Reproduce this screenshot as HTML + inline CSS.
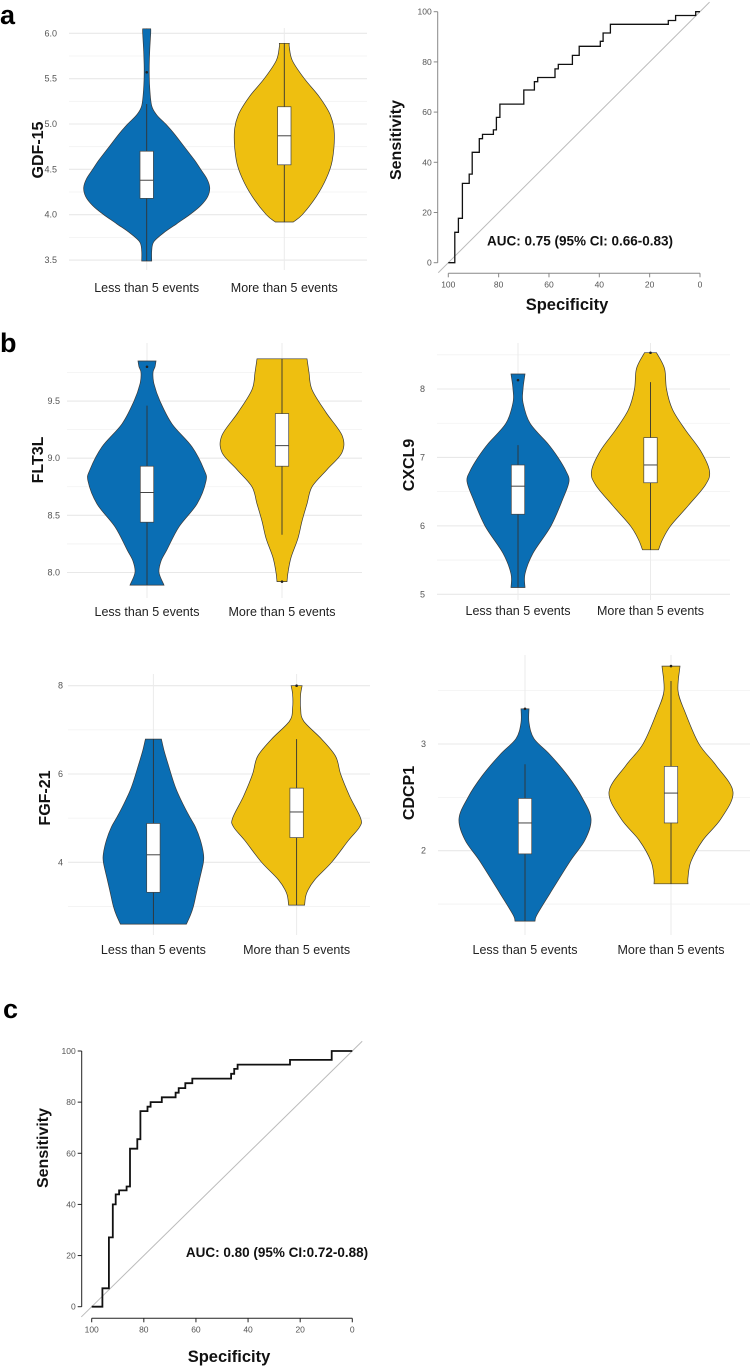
<!DOCTYPE html>
<html><head><meta charset="utf-8">
<style>
html,body{margin:0;padding:0;background:#fff;}
svg{display:block;font-family:"Liberation Sans",sans-serif;}
</style></head>
<body>
<svg id="fig" width="750" height="1368" viewBox="0 0 750 1368" xmlns="http://www.w3.org/2000/svg">
<text x="0" y="24" font-size="27" font-weight="bold">a</text>
<text x="0" y="352" font-size="27" font-weight="bold">b</text>
<text x="3" y="1018" font-size="27" font-weight="bold">c</text>
</svg>
<script>
// ---------- DATA ----------
const groups = ["Less than 5 events", "More than 5 events"];
const gdfBlue = [[3.49,5],[3.6,5],[3.7,7],[3.8,17],[3.9,30],[4.0,43],[4.1,54],[4.2,61],[4.3,63],[4.4,60],[4.5,54],[4.6,48],[4.7,41],[4.8,34],[4.9,27],[5.0,19],[5.1,10],[5.2,5],[5.4,3],[5.6,2.5],[5.8,3],[6.0,4],[6.05,4]];
const gdfYellow = [[3.92,9],[4.0,18],[4.2,32],[4.4,42],[4.6,48],[4.9,50],[5.1,46],[5.3,35],[5.5,20],[5.7,8],[5.85,5],[5.89,5]];
const gdfStats = [[3.49,4.18,4.38,4.70,5.22],[3.92,4.55,4.87,5.19,5.89]];
const gdfOut = [[5.57],[]];
const fltBlue = [[7.89,17],[8.0,12],[8.1,14],[8.2,20],[8.4,32],[8.6,50],[8.8,59],[8.9,57],[9.1,45],[9.3,25],[9.5,13],[9.65,7],[9.75,6],[9.8,8],[9.85,9]];
const fltYellow = [[7.92,5],[8.0,6],[8.13,9],[8.3,16],[8.45,20],[8.6,25],[8.75,30],[8.9,45],[9.05,60],[9.2,60],[9.4,44],[9.6,30],[9.75,27],[9.87,25]];
const fltStats = [[7.89,8.44,8.70,8.93,9.46],[8.33,8.93,9.11,9.39,9.87]];
const fltOut = [[9.8],[7.92]];
const cxBlue = [[5.1,7],[5.3,7],[5.6,15],[6.0,33],[6.4,45],[6.65,51],[6.8,48],[7.0,40],[7.2,30],[7.5,12],[7.8,5],[8.0,5],[8.22,7]];
const cxYellow = [[5.65,8],[5.8,12],[6.0,20],[6.3,38],[6.6,55],[6.8,59],[7.1,50],[7.4,35],[7.7,22],[8.0,16],[8.3,14],[8.53,6]];
const cxStats = [[5.1,6.17,6.58,6.89,7.18],[5.65,6.63,6.89,7.29,8.1]];
const cxOut = [[8.13],[8.53]];
const fgfBlue = [[2.6,33],[2.8,37],[3.0,40],[3.3,43],[3.6,46],[4.0,50],[4.2,50],[4.5,47],[4.8,42],[5.0,37],[5.3,30],[5.7,22],[6.2,15],[6.5,11],[6.79,8]];
const fgfYellow = [[3.03,8],[3.3,10],[3.6,18],[4.0,35],[4.5,52],[4.8,63],[5.0,64],[5.5,53],[6.0,44],[6.4,39],[6.79,25],[7.2,7],[7.5,4],[7.8,4],[8.0,5.5]];
const fgfStats = [[2.6,3.32,4.17,4.88,6.79],[3.03,4.56,5.14,5.68,6.79]];
const fgfOut = [[],[8.0]];
const cdBlue = [[1.34,10],[1.4,12],[1.6,25],[1.9,45],[2.1,60],[2.3,66],[2.5,57],[2.7,43],[2.9,25],[3.05,9],[3.2,4],[3.33,4]];
const cdYellow = [[1.69,17],[1.75,17],[1.9,20],[2.1,32],[2.3,50],[2.55,62],[2.8,45],[3.0,28],[3.3,14],[3.5,7],[3.73,9]];
const cdStats = [[1.34,1.97,2.26,2.49,2.81],[1.69,2.26,2.54,2.79,3.59]];
const cdOut = [[3.33],[3.73]];

const rocASpec = [97.4,96,94.4,91.7,90.5,87.7,86.4,82.1,80.9,79.5,70,65.8,64.5,57.6,56.3,50.7,48,39.6,38.5,35.6,12.6,9.7,1.7,0];
const rocASens = [12.1,17.7,31.6,35.3,44,49.4,51.1,52.9,57.9,63.2,68.8,72.1,73.8,77.2,79,82.6,86.2,88.2,91.5,95,96.5,98.5,100,100];
const rocCSpec = [95.9,93.4,91.9,90.8,89.5,86.6,85.3,82.5,81.3,78.6,77.4,73.1,67.8,66.6,64.1,61.4,46.5,45.3,44,23.9,7.9,0];
const rocCSens = [7.2,27.1,40,43.9,45.5,47,61.8,65.5,76.5,78.2,80,81.9,83.7,85.5,87.4,89.2,91.1,93,94.7,96.5,100,100];
const rocTicks = [0,20,40,60,80,100];

// ---------- RENDER ----------
const svg = document.getElementById('fig');
const NS = 'http://www.w3.org/2000/svg';
function mk(tag, attrs, parent){const e=document.createElementNS(NS,tag);for(const k in attrs)e.setAttribute(k,attrs[k]);(parent||svg).appendChild(e);return e;}
const COLORS = ['#0a6eb4','#eebf10'];

function smooth(pts){
  // Catmull-Rom to bezier, pts already includes start; returns segment string (no initial M)
  let s='';
  for(let i=0;i<pts.length-1;i++){
    const p0=pts[Math.max(0,i-1)],p1=pts[i],p2=pts[i+1],p3=pts[Math.min(pts.length-1,i+2)];
    const c1=[p1[0]+(p2[0]-p0[0])/6,p1[1]+(p2[1]-p0[1])/6];
    const c2=[p2[0]-(p3[0]-p1[0])/6,p2[1]-(p3[1]-p1[1])/6];
    s+=` C${c1[0].toFixed(1)},${c1[1].toFixed(1)} ${c2[0].toFixed(1)},${c2[1].toFixed(1)} ${p2[0].toFixed(1)},${p2[1].toFixed(1)}`;
  }
  return s;
}

function violinPanel(p){
  const g = mk('g',{});
  
  
  const y = v => p.py0 + (v - p.v0) * p.k;
  p.minor.forEach(v=>{const l=mk('line',{x1:p.gx0,x2:p.gx1,y1:y(v),y2:y(v),stroke:'#f2f2f2','stroke-width':0.8},g);
    
    });
  p.major.forEach(v=>{const l=mk('line',{x1:p.gx0,x2:p.gx1,y1:y(v),y2:y(v),stroke:'#e8e8e8','stroke-width':1.1},g);
    
    
    const t=mk('text',{x:p.tx,y:y(v)+3,'text-anchor':'end','font-size':9,fill:'#555'},g);t.textContent=p.fmt(v);
    
    });
  p.cx.forEach(c=>{const l=mk('line',{x1:c,x2:c,y1:p.vy0,y2:p.vy1,stroke:'#ebebeb','stroke-width':1},g);
    
    });
  p.dens.forEach((d,i)=>{
    const c=p.cx[i];
    const right=d.map(q=>[c+q[1],y(q[0])]);
    const left=d.slice().reverse().map(q=>[c-q[1],y(q[0])]);
    const dd='M'+right[0][0].toFixed(1)+','+right[0][1].toFixed(1)+smooth(right)+' L'+left[0][0].toFixed(1)+','+left[0][1].toFixed(1)+smooth(left)+'Z';
    const path=mk('path',{d:dd,fill:COLORS[i],stroke:'#3a3a3a','stroke-width':0.7},g);
    
    
    const s=p.stats[i];
    const w=mk('line',{x1:c,x2:c,y1:y(s[0]),y2:y(s[4]),stroke:'#333','stroke-width':0.9},g);
    
    
    const b=mk('rect',{x:c-6.7,y:y(s[3]),width:13.4,height:y(s[1])-y(s[3]),fill:'#fff',stroke:'#444','stroke-width':0.7},g);
    
    
    const m=mk('line',{x1:c-6.7,x2:c+6.7,y1:y(s[2]),y2:y(s[2]),stroke:'#444','stroke-width':1},g);
    
    
    p.out[i].forEach(o=>{const pt=mk('circle',{cx:c,cy:y(o),r:1.3,fill:'#222'},g);
      
      });
    const t=mk('text',{x:c,y:p.ly,'text-anchor':'middle','font-size':12.5,fill:'#222'},g);t.textContent=groups[i];
    
    
  });
  const tt=mk('text',{x:p.ttx,y:p.tty,'text-anchor':'middle','font-size':16,'font-weight':'bold',fill:'#111',transform:`rotate(-90 ${p.ttx} ${p.tty})`},g);
  tt.textContent=p.title;
  
  
}
const f1=v=>v.toFixed(1), f0=v=>String(v);
violinPanel({name:'gdf15-violin',title:'GDF-15',v0:4.0,py0:214.7,k:-90.7,gx0:69,gx1:367,tx:57,ly:292,ttx:43,tty:150,vy0:28,vy1:270,cx:[146.7,284.3],
  major:[3.5,4.0,4.5,5.0,5.5,6.0],minor:[3.75,4.25,4.75,5.25,5.75],fmt:f1,dens:[gdfBlue,gdfYellow],stats:gdfStats,out:gdfOut});
violinPanel({name:'flt3l-violin',title:'FLT3L',v0:8.0,py0:572.5,k:-114.3,gx0:67,gx1:362,tx:60,ly:616,ttx:43,tty:460,vy0:343,vy1:598,cx:[147,282],
  major:[8.0,8.5,9.0,9.5],minor:[8.25,8.75,9.25,9.75],fmt:f1,dens:[fltBlue,fltYellow],stats:fltStats,out:fltOut});
violinPanel({name:'cxcl9-violin',title:'CXCL9',v0:5,py0:594.3,k:-68.43,gx0:437,gx1:730,tx:425,ly:615,ttx:414,tty:465,vy0:343,vy1:600,cx:[518,650.5],
  major:[5,6,7,8],minor:[5.5,6.5,7.5,8.5],fmt:f0,dens:[cxBlue,cxYellow],stats:cxStats,out:cxOut});
violinPanel({name:'fgf21-violin',title:'FGF-21',v0:4,py0:862.3,k:-44.15,gx0:68,gx1:370,tx:63,ly:954,ttx:50,tty:798,vy0:674,vy1:935,cx:[153.4,296.6],
  major:[4,6,8],minor:[3,5,7],fmt:f0,dens:[fgfBlue,fgfYellow],stats:fgfStats,out:fgfOut});
violinPanel({name:'cdcp1-violin',title:'CDCP1',v0:2,py0:850.7,k:-106.7,gx0:438,gx1:760,tx:426,ly:954,ttx:414,tty:793,vy0:655,vy1:935,cx:[525,671],
  major:[2,3],minor:[1.5,2.5,3.5],fmt:f0,dens:[cdBlue,cdYellow],stats:cdStats,out:cdOut});

function rocPanel(p){
  const g=mk('g',{});
  
  
  const X=s=>p.x100+(100-s)*p.kx, Y=v=>p.y0-v*p.ky;
  const ax=mk('line',{x1:p.yax,x2:p.yax,y1:Y(100),y2:Y(0),stroke:p.axc,'stroke-width':1},g);
  
  
  const bx=mk('line',{x1:X(100),x2:X(0),y1:p.xay,y2:p.xay,stroke:p.axc,'stroke-width':1},g);
  
  
  rocTicks.forEach(v=>{
    mk('line',{x1:p.yax-4,x2:p.yax,y1:Y(v),y2:Y(v),stroke:p.axc,'stroke-width':1},g);
    const t=mk('text',{x:p.yax-6,y:Y(v)+3,'text-anchor':'end','font-size':8.5,fill:'#555'},g);t.textContent=v;
    
    
    mk('line',{x1:X(v),x2:X(v),y1:p.xay,y2:p.xay+4,stroke:p.axc,'stroke-width':1},g);
    const u=mk('text',{x:X(v),y:p.xay+14,'text-anchor':'middle','font-size':8.5,fill:'#555'},g);u.textContent=v;
    
    
  });
  const dg=mk('line',{x1:X(104),y1:Y(-4),x2:X(-3.8),y2:Y(103.8),stroke:'#bbb','stroke-width':1},g);
  
  
  let d='M'+X(100)+','+Y(0);
  p.spec.forEach((s,i)=>{d+=' H'+X(s).toFixed(1)+' V'+Y(p.sens[i]).toFixed(1);});
  const c=mk('path',{d:d,fill:'none',stroke:'#111','stroke-width':p.lw},g);
  
  
  const a=mk('text',{x:p.ax,y:p.ay,'text-anchor':'middle','font-size':13.5,'font-weight':'bold',fill:'#111'},g);a.textContent=p.auc;
  
  
  const s1=mk('text',{x:p.stx,y:p.sty,'text-anchor':'middle','font-size':16,'font-weight':'bold',fill:'#111',transform:`rotate(-90 ${p.stx} ${p.sty})`},g);s1.textContent='Sensitivity';
  
  
  const s2=mk('text',{x:p.spx,y:p.spy,'text-anchor':'middle','font-size':16.5,'font-weight':'bold',fill:'#111'},g);s2.textContent='Specificity';
  
  
}
rocPanel({name:'roc-gdf15',x100:448.3,kx:2.517,y0:262.7,ky:2.51,yax:437.7,xay:273.3,axc:'#888',lw:1.3,spec:rocASpec,sens:rocASens,
  auc:'AUC: 0.75 (95% CI: 0.66-0.83)',ax:580,ay:245.5,stx:401,sty:140,spx:567,spy:310});
rocPanel({name:'roc-combined',x100:91.7,kx:2.606,y0:1306.7,ky:2.557,yax:81.7,xay:1318.3,axc:'#222',lw:1.8,spec:rocCSpec,sens:rocCSens,
  auc:'AUC: 0.80 (95% CI:0.72-0.88)',ax:277,ay:1257,stx:48,sty:1148,spx:229,spy:1362});
</script>
</body></html>
